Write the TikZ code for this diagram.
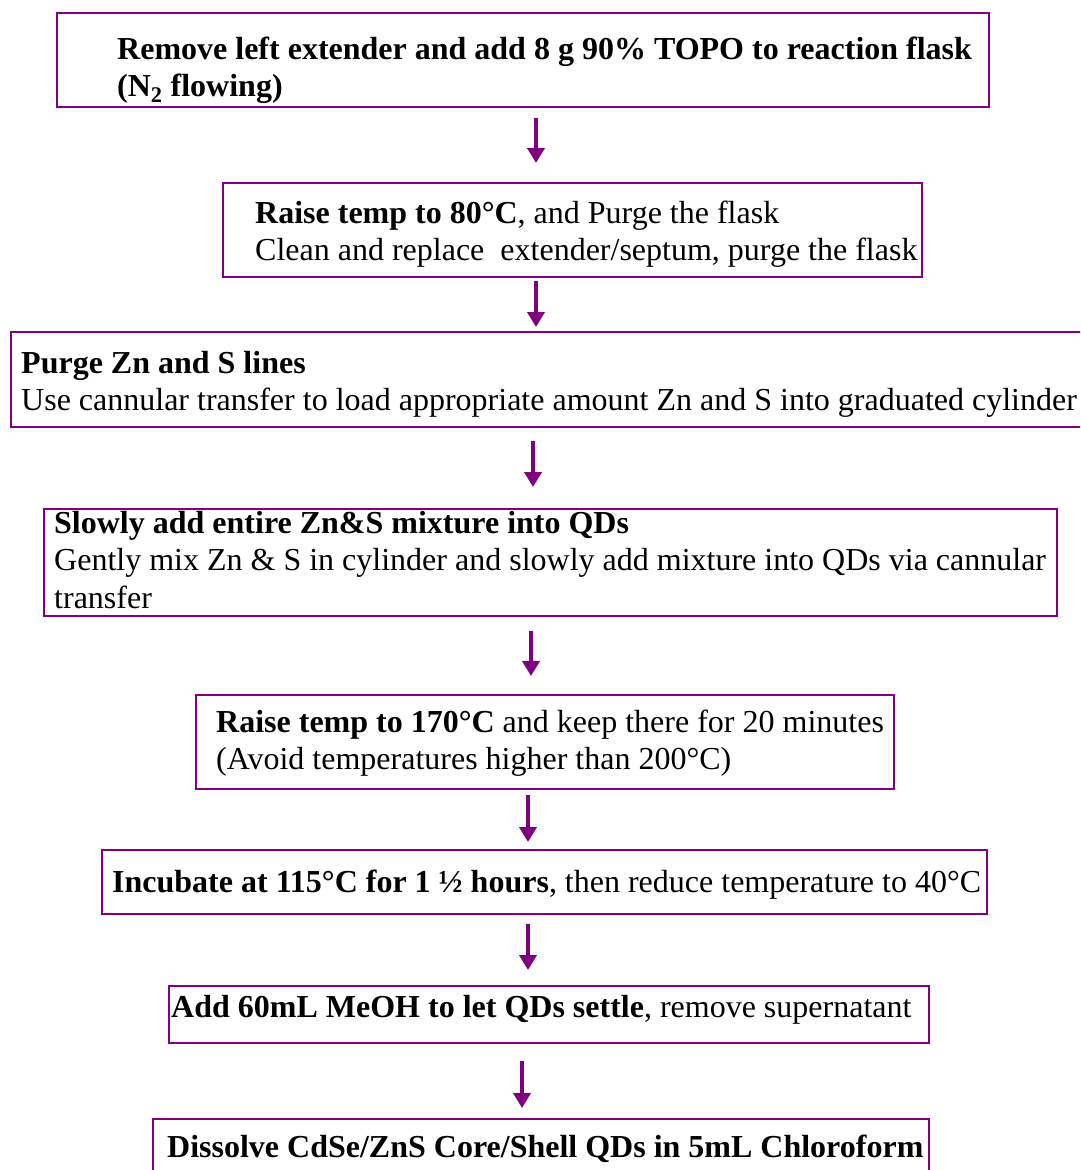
\documentclass[tikz,border=0pt]{standalone}
\usepackage{fontspec}
\setmainfont{Liberation Serif}
\usetikzlibrary{arrows.meta}
\definecolor{qpurple}{RGB}{128,0,128}
\tikzset{
  stepbox/.style={draw=qpurple, line width=2pt, rectangle, inner sep=0pt, anchor=north west},
  steptext/.style={anchor=base west, inner sep=0pt, text width=1100pt, align=left,
    font=\fontsize{32}{37.5}\selectfont, text=black,
    execute at begin node={\spaceskip=0pt\relax\xspaceskip=0pt\relax}},
  flowarrow/.style={draw=qpurple, line width=4pt, -{Triangle[width=17pt,length=15pt]}}
}
\begin{document}
\begin{tikzpicture}[x=1pt,y=-1pt]
\useasboundingbox (0,0) rectangle (1080,1170);
\fill[white] (0,0) rectangle (1080,1170);
\clip (0,0) rectangle (1080,1170);
% boxes
\node[stepbox, minimum width=932pt, minimum height=94pt] (b1) at (56,12) {};
\node[stepbox, minimum width=699pt, minimum height=94pt] (b2) at (222,182) {};
\node[stepbox, minimum width=1080pt, minimum height=95pt] (b3) at (10,331) {};
\node[stepbox, minimum width=1013pt, minimum height=107pt] (b4) at (43,508) {};
\node[stepbox, minimum width=698pt, minimum height=94pt] (b5) at (195,694) {};
\node[stepbox, minimum width=885pt, minimum height=64pt] (b6) at (101,849) {};
\node[stepbox, minimum width=760pt, minimum height=57pt] (b7) at (168,985) {};
\node[stepbox, minimum width=776pt, minimum height=70pt] (b8) at (152,1118) {};
% texts
\node[steptext] (t1) at (117,59) {\textbf{Remove left extender and add 8 g 90\% TOPO to reaction flask}\\\textbf{(N\textsubscript{2} flowing)}};
\node[steptext] (t2) at (255,223) {\textbf{Raise temp to 80°C}, and Purge the flask\\Clean and replace\ \ extender/septum, purge the flask};
\node[steptext] (t3) at (21,373) {\textbf{Purge Zn and S lines}\\Use cannular transfer to load appropriate amount Zn and S into graduated cylinder};
\node[steptext] (t4) at (54,533) {\textbf{Slowly add entire Zn\&S mixture into QDs}\\Gently mix Zn \& S in cylinder and slowly add mixture into QDs via cannular\\transfer};
\node[steptext] (t5) at (216,732) {\textbf{Raise temp to 170°C} and keep there for 20 minutes\\(Avoid temperatures higher than 200°C)};
\node[steptext] (t6) at (112,892) {\textbf{Incubate at 115°C for 1 ½ hours}, then reduce temperature to 40°C};
\node[steptext] (t7) at (171,1017) {\textbf{Add 60mL MeOH to let QDs settle}, remove supernatant};
\node[steptext] (t8) at (167,1157) {\textbf{Dissolve CdSe/ZnS Core/Shell QDs in 5mL Chloroform}};
% arrow columns
\coordinate (x1) at (536,0);
\coordinate (x2) at (536,0);
\coordinate (x3) at (533,0);
\coordinate (x4) at (531,0);
\coordinate (x5) at (528,0);
\coordinate (x6) at (528,0);
\coordinate (x7) at (522,0);
\draw[flowarrow, shorten <=10pt, shorten >=19pt] (b1.south -| x1) -- (b2.north -| x1);
\draw[flowarrow, shorten <=3pt, shorten >=4pt] (b2.south -| x2) -- (b3.north -| x2);
\draw[flowarrow, shorten <=13pt, shorten >=21pt] (b3.south -| x3) -- (b4.north -| x3);
\draw[flowarrow, shorten <=14pt, shorten >=18pt] (b4.south -| x4) -- (b5.north -| x4);
\draw[flowarrow, shorten <=5pt, shorten >=7pt] (b5.south -| x5) -- (b6.north -| x5);
\draw[flowarrow, shorten <=9pt, shorten >=15pt] (b6.south -| x6) -- (b7.north -| x6);
\draw[flowarrow, shorten <=17pt, shorten >=10pt] (b7.south -| x7) -- (b8.north -| x7);
\end{tikzpicture}
\end{document}
